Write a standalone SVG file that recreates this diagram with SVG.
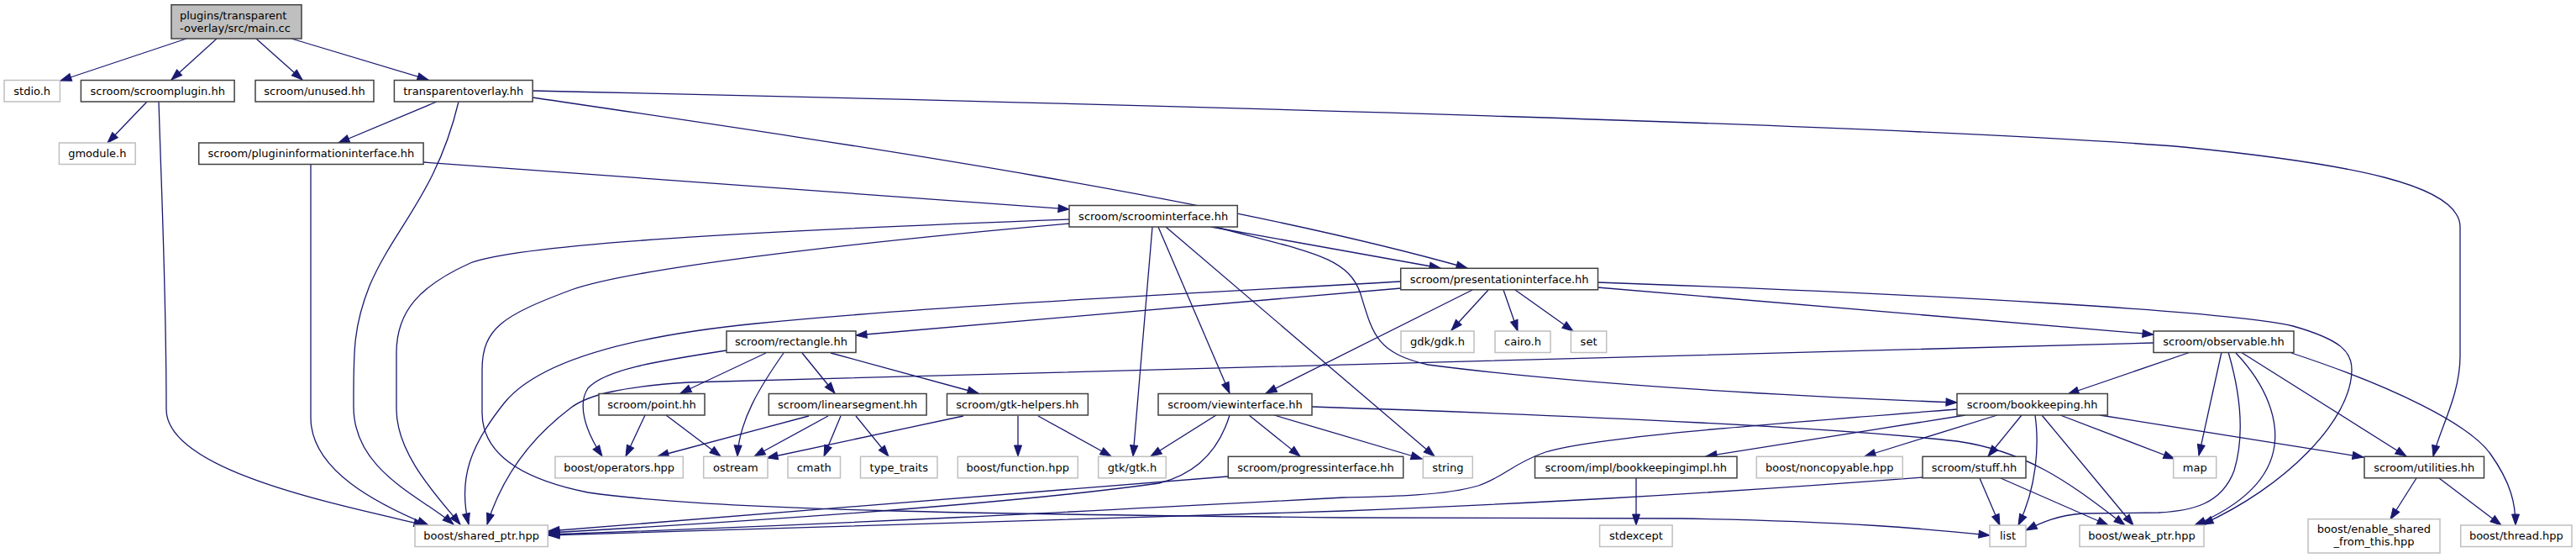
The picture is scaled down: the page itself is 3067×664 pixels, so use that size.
<svg xmlns="http://www.w3.org/2000/svg" width="3067" height="664" viewBox="0 0 3067 664">
<style>
.nd rect{fill:#fff;stroke:#404040;stroke-width:1.5}
.ng rect{fill:#fff;stroke:#bfbfbf;stroke-width:1.5}
.nm rect{fill:#bfbfbf;stroke:#404040;stroke-width:1.5}
text{font-family:"DejaVu Sans",sans-serif;font-size:13px;fill:#000;text-anchor:middle}
.l{text-anchor:start}
#edges path{fill:none;stroke:#191970;stroke-width:1.3;marker-end:url(#a)}
</style>
<defs>
<marker id="a" markerUnits="userSpaceOnUse" markerWidth="16" markerHeight="12" refX="13" refY="4.5" orient="auto" overflow="visible">
<path d="M0,0 L13,4.5 L0,9 z" fill="#191970" stroke="#191970" stroke-width="1"/>
</marker>
</defs>
<rect width="3067" height="664" fill="#fff"/>
<g id="edges">
<path d="M222,46 L72,96"/>
<path d="M258,46 L204,95"/>
<path d="M305,46 L360,95"/>
<path d="M347,46 L510,95"/>
<path d="M175,121 L128,170"/>
<path d="M189,121 C193,250 198,350 198,487 C198,560 400,600 506,625"/>
<path d="M520,121 L403,170"/>
<path d="M546,121 C520,230 470,270 440,340 C420,390 421,420 421,484 C421,560 500,590 540,624"/>
<path d="M634,116 C1000,170 1450,235 1747,319"/>
<path d="M634,108 C1400,125 2300,150 2600,175 C2800,195 2929,220 2929,270 L2929,424 C2929,470 2905,510 2897,543"/>
<path d="M504,193 L1273,249"/>
<path d="M370,195 L370,497 C370,560 450,600 510,625"/>
<path d="M1442,270 L1715,319"/>
<path d="M1273,261 C900,275 620,290 560,313 C500,340 472,370 472,420 L472,487 C472,540 520,590 548,624"/>
<path d="M1273,266 C1000,290 750,320 680,345 C600,375 574,390 574,440 L574,491 C574,540 620,570 700,586 C850,608 1200,612 1600,616 L2000,617 C2200,620 2300,630 2369,637"/>
<path d="M1372,270 L1349,543"/>
<path d="M1379,270 L1464,468"/>
<path d="M1388,270 L1708,543"/>
<path d="M1447,270 C1560,300 1605,305 1620,350 C1635,400 1640,420 1700,434 C1900,460 2150,472 2330,479"/>
<path d="M1668,335 C1400,350 1100,365 900,385 C750,400 640,430 600,480 C560,530 545,570 558,624"/>
<path d="M1668,343 L1019,399"/>
<path d="M1753,345 L1507,468"/>
<path d="M1772,345 L1728,393"/>
<path d="M1790,345 L1807,394"/>
<path d="M1804,345 L1873,394"/>
<path d="M1902,342 L2564,398"/>
<path d="M1902,336 C2300,350 2650,370 2730,388 C2790,405 2800,420 2800,440 C2800,500 2720,580 2622,624"/>
<path d="M912,420 L810,468"/>
<path d="M933,420 C905,460 880,500 878,543"/>
<path d="M955,420 L994,468"/>
<path d="M989,420 L1165,468"/>
<path d="M865,417 C780,430 720,440 700,462 C688,480 695,510 717,543"/>
<path d="M768,494 L745,543"/>
<path d="M793,494 L858,543"/>
<path d="M963,495 L783,543"/>
<path d="M986,495 L898,543"/>
<path d="M1001,495 L981,543"/>
<path d="M1019,495 L1058,543"/>
<path d="M1147,495 L913,545"/>
<path d="M1212,495 L1212,543"/>
<path d="M1236,495 L1323,543"/>
<path d="M1448,494 L1370,543"/>
<path d="M1464,494 C1450,540 1420,565 1380,575 C1200,600 900,620 653,634"/>
<path d="M1462,567 L653,632"/>
<path d="M1487,494 L1548,543"/>
<path d="M1517,494 L1693,546"/>
<path d="M1562,484 C1900,495 2200,510 2330,525 C2420,538 2470,580 2530,625"/>
<path d="M2330,487 C2100,505 1900,520 1840,538 C1800,552 1790,568 1760,578 C1720,590 1650,591 1600,592 C1300,608 1000,624 653,636"/>
<path d="M2289,568 C2000,590 1800,600 1600,608 C1300,616 1000,626 653,637"/>
<path d="M2340,494 L2031,543"/>
<path d="M2378,494 L2220,543"/>
<path d="M2407,494 L2367,543"/>
<path d="M2423,494 C2428,530 2425,580 2403,625"/>
<path d="M2431,494 L2540,625"/>
<path d="M2453,494 L2589,546"/>
<path d="M2500,494 L2814,544"/>
<path d="M2608,419 L2462,469"/>
<path d="M2645,419 L2618,542"/>
<path d="M2653,419 C2668,470 2672,520 2660,560 C2645,600 2610,608 2570,610 L2480,611 C2450,613 2430,622 2412,631"/>
<path d="M2662,420 C2700,460 2712,500 2708,530 C2702,575 2660,605 2613,625"/>
<path d="M2668,419 L2865,543"/>
<path d="M2728,420 C2850,460 2940,505 2965,540 C2990,575 2995,600 2995,625"/>
<path d="M2564,408 L820,455 C740,460 700,470 680,485 C640,515 600,560 580,624"/>
<path d="M2357,569 L2381,625"/>
<path d="M2382,569 L2510,625"/>
<path d="M1948,569 L1948,625"/>
<path d="M2877,569 L2846,618"/>
<path d="M2904,569 L2978,625"/>
</g>
<g id="n_main" class="nm"><rect x="204" y="5.7" width="155" height="40.3"/><text class="l" x="214" y="23.2">plugins/transparent</text><text class="l" x="214" y="37.6">-overlay/src/main.cc</text></g>
<g id="n_stdio" class="ng"><rect x="5" y="95.5" width="66.4" height="25.5"/><text x="38.2" y="112.8">stdio.h</text></g>
<g id="n_scroomplugin" class="nd"><rect x="96.4" y="95.5" width="182.7" height="25.5"/><text x="187.75" y="112.8">scroom/scroomplugin.hh</text></g>
<g id="n_unused" class="nd"><rect x="304" y="95.5" width="141" height="25.5"/><text x="374.5" y="112.8">scroom/unused.hh</text></g>
<g id="n_transparentoverlay" class="nd"><rect x="469.4" y="95.5" width="164.8" height="25.5"/><text x="551.8" y="112.8">transparentoverlay.hh</text></g>
<g id="n_gmodule" class="ng"><rect x="70.4" y="170" width="90.8" height="25.5"/><text x="115.8" y="187.3">gmodule.h</text></g>
<g id="n_plugininfo" class="nd"><rect x="236.7" y="170" width="267.4" height="25.5"/><text x="370.4" y="187.3">scroom/plugininformationinterface.hh</text></g>
<g id="n_scroominterface" class="nd"><rect x="1273" y="244.5" width="200.3" height="25.5"/><text x="1373.15" y="261.8">scroom/scroominterface.hh</text></g>
<g id="n_presentationinterface" class="nd"><rect x="1667.7" y="319.3" width="234.8" height="25.5"/><text x="1785.1" y="336.6">scroom/presentationinterface.hh</text></g>
<g id="n_rectangle" class="nd"><rect x="865" y="394" width="154" height="25.5"/><text x="942" y="411.3">scroom/rectangle.hh</text></g>
<g id="n_gdk" class="ng"><rect x="1668" y="394" width="87" height="25.5"/><text x="1711.5" y="411.3">gdk/gdk.h</text></g>
<g id="n_cairo" class="ng"><rect x="1780" y="394" width="66" height="25.5"/><text x="1813" y="411.3">cairo.h</text></g>
<g id="n_set" class="ng"><rect x="1870.4" y="394" width="42.3" height="25.5"/><text x="1891.55" y="411.3">set</text></g>
<g id="n_observable" class="nd"><rect x="2564" y="394" width="167" height="25.5"/><text x="2647.5" y="411.3">scroom/observable.hh</text></g>
<g id="n_point" class="nd"><rect x="713" y="468.5" width="126" height="25.5"/><text x="776" y="485.8">scroom/point.hh</text></g>
<g id="n_linearsegment" class="nd"><rect x="915.3" y="468.5" width="187.8" height="25.5"/><text x="1009.2" y="485.8">scroom/linearsegment.hh</text></g>
<g id="n_gtkhelpers" class="nd"><rect x="1127.5" y="468.5" width="167.9" height="25.5"/><text x="1211.45" y="485.8">scroom/gtk-helpers.hh</text></g>
<g id="n_viewinterface" class="nd"><rect x="1379" y="468.5" width="183" height="25.5"/><text x="1470.5" y="485.8">scroom/viewinterface.hh</text></g>
<g id="n_bookkeeping" class="nd"><rect x="2330" y="468.5" width="179.3" height="25.5"/><text x="2419.65" y="485.8">scroom/bookkeeping.hh</text></g>
<g id="n_operators" class="ng"><rect x="661" y="543.3" width="152.3" height="25.5"/><text x="737.15" y="560.6">boost/operators.hpp</text></g>
<g id="n_ostream" class="ng"><rect x="837.7" y="543.3" width="76.3" height="25.5"/><text x="875.85" y="560.6">ostream</text></g>
<g id="n_cmath" class="ng"><rect x="938" y="543.3" width="62.5" height="25.5"/><text x="969.25" y="560.6">cmath</text></g>
<g id="n_typetraits" class="ng"><rect x="1024.5" y="543.3" width="91.5" height="25.5"/><text x="1070.25" y="560.6">type_traits</text></g>
<g id="n_function" class="ng"><rect x="1140.3" y="543.3" width="143" height="25.5"/><text x="1211.8" y="560.6">boost/function.hpp</text></g>
<g id="n_gtk" class="ng"><rect x="1307.7" y="543.3" width="80.6" height="25.5"/><text x="1348" y="560.6">gtk/gtk.h</text></g>
<g id="n_progressinterface" class="nd"><rect x="1462.3" y="543.3" width="208.4" height="25.5"/><text x="1566.5" y="560.6">scroom/progressinterface.hh</text></g>
<g id="n_string" class="ng"><rect x="1694.3" y="543.3" width="59" height="25.5"/><text x="1723.8" y="560.6">string</text></g>
<g id="n_bookkeepingimpl" class="nd"><rect x="1827.5" y="543.3" width="240.5" height="25.5"/><text x="1947.75" y="560.6">scroom/impl/bookkeepingimpl.hh</text></g>
<g id="n_noncopyable" class="ng"><rect x="2091.3" y="543.3" width="174" height="25.5"/><text x="2178.3" y="560.6">boost/noncopyable.hpp</text></g>
<g id="n_stuff" class="nd"><rect x="2289" y="543.3" width="123" height="25.5"/><text x="2350.5" y="560.6">scroom/stuff.hh</text></g>
<g id="n_map" class="ng"><rect x="2587.7" y="543.3" width="51" height="25.5"/><text x="2613.2" y="560.6">map</text></g>
<g id="n_utilities" class="nd"><rect x="2815" y="543.3" width="142.5" height="25.5"/><text x="2886.25" y="560.6">scroom/utilities.hh</text></g>
<g id="n_sharedptr" class="ng"><rect x="494" y="625" width="158.3" height="25.5"/><text x="573.15" y="642.3">boost/shared_ptr.hpp</text></g>
<g id="n_stdexcept" class="ng"><rect x="1904.6" y="625" width="86.5" height="25.5"/><text x="1947.85" y="642.3">stdexcept</text></g>
<g id="n_list" class="ng"><rect x="2369" y="625" width="43" height="25.5"/><text x="2390.5" y="642.3">list</text></g>
<g id="n_weakptr" class="ng"><rect x="2476" y="625" width="148" height="25.5"/><text x="2550" y="642.3">boost/weak_ptr.hpp</text></g>
<g id="n_enableshared" class="ng"><rect x="2748" y="617.7" width="157" height="40.3"/><text x="2826.5" y="633.6">boost/enable_shared</text><text x="2826.5" y="649.3">_from_this.hpp</text></g>
<g id="n_thread" class="ng"><rect x="2929.7" y="625" width="132.3" height="25.5"/><text x="2995.85" y="642.3">boost/thread.hpp</text></g>
</svg>
